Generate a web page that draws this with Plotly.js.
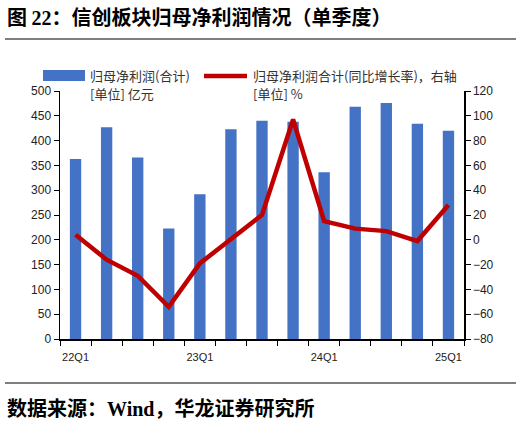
<!DOCTYPE html>
<html><head><meta charset="utf-8">
<script src="https://cdn.plot.ly/plotly-3.0.1.min.js"></script>
<style>html,body{margin:0;padding:0;background:#fff}#chart{width:523px;height:424px}</style>
</head><body><div id="chart"></div><script>
const quarters = ['22Q1','22Q2','22Q3','22Q4','23Q1','23Q2','23Q3','23Q4','24Q1','24Q2','24Q3','24Q4','25Q1'];
const netProfit = [363,427,366,223,292,423,440,438,336,468,476,434,420];
const yoyGrowth = [4,-16,-29,-54,-19,1,20,97,15,9,7,-1,28];
const tickLabels = ['22Q1','','','','23Q1','','','','24Q1','','','','25Q1'];
const barName = '归母净利润(合计)';
const lineName = '归母净利润合计(同比增长率)，右轴';
const barUnit = '[单位] 亿元';
const lineUnit = '[单位] %';
const serif = "'Liberation Serif', 'Times New Roman', serif";
const titleText = '图 <span style="font-family:' + serif + '">22</span>：信创板块归母净利润情况（单季度）';
const sourceText = '数据来源：<span style="font-family:' + serif + '">Wind</span>，华龙证券研究所';

const cjk = '"Noto Sans CJK SC", sans-serif';
const num = '"Liberation Sans", Arial, sans-serif';
const W = 523, H = 424;
const M = {l:60, r:59, t:91, b:85};
const PW = W - M.l - M.r, PH = H - M.t - M.b;
// pixel -> paper (plot-area) coordinates
const px = x => (x - M.l) / PW;
const py = y => (H - M.b - y) / PH;

const traces = [
  {type:'bar', x:quarters, y:netProfit, name:barName, marker:{color:'#4472C4'}, yaxis:'y', showlegend:false},
  {type:'scatter', mode:'lines', x:quarters, y:yoyGrowth, name:lineName, line:{color:'#C00000', width:4.5}, yaxis:'y2', showlegend:false}
];

const layout = {
  width: W, height: H,
  margin: M,
  paper_bgcolor:'#fff', plot_bgcolor:'#fff',
  bargap: 0.635,
  title: {text: titleText, x: 7/W, xanchor:'left', y: 1 - 18/H, yanchor:'middle', font:{family:cjk, size:20, color:'#000', weight:'bold'}},
  xaxis: {type:'category', tickmode:'array', tickvals:quarters, ticktext:tickLabels, tickson:'boundaries', tickangle:0,
          ticks:'outside', ticklen:5, tickcolor:'#000', showline:true, linecolor:'#000', linewidth:1.5, ticklabelstandoff:7,
          showgrid:false, zeroline:false, tickfont:{family:num, size:11, color:'#222'}},
  yaxis: {range:[0,500], dtick:50, ticks:'outside', ticklen:5, tickcolor:'#000', showline:true, linecolor:'#000', linewidth:1.5,
          showgrid:false, zeroline:false, tickfont:{family:num, size:12, color:'#222'}},
  yaxis2: {range:[-80,120], dtick:20, overlaying:'y', side:'right', ticks:'outside', ticklen:5, tickcolor:'#000',
           showline:true, linecolor:'#000', linewidth:1.5, showgrid:false, zeroline:false,
           tickfont:{family:num, size:12, color:'#222'}},
  shapes: [
    {type:'line', xref:'paper', yref:'paper', x0:px(5), x1:px(516), y0:py(39), y1:py(39), line:{color:'#000', width:1.2}},
    {type:'line', xref:'paper', yref:'paper', x0:px(5), x1:px(516), y0:py(383), y1:py(383), line:{color:'#000', width:1.2}},
    {type:'rect', xref:'paper', yref:'paper', x0:px(43), x1:px(85), y0:py(70), y1:py(81), fillcolor:'#4472C4', line:{width:0}},
    {type:'line', xref:'paper', yref:'paper', x0:px(204), x1:px(247), y0:py(76), y1:py(76), line:{color:'#C00000', width:4.5}}
  ],
  annotations: [
    {text:barName, xref:'paper', yref:'paper', x:px(88), y:py(76), xanchor:'left', yanchor:'middle', showarrow:false, font:{family:cjk, size:13, color:'#333'}},
    {text:barUnit, xref:'paper', yref:'paper', x:px(88), y:py(93), xanchor:'left', yanchor:'middle', showarrow:false, font:{family:cjk, size:13, color:'#333'}},
    {text:lineName, xref:'paper', yref:'paper', x:px(251), y:py(76), xanchor:'left', yanchor:'middle', showarrow:false, font:{family:cjk, size:13, color:'#333'}},
    {text:lineUnit, xref:'paper', yref:'paper', x:px(251), y:py(93), xanchor:'left', yanchor:'middle', showarrow:false, font:{family:cjk, size:13, color:'#333'}},
    {text:sourceText, xref:'paper', yref:'paper', x:px(5), y:py(407), xanchor:'left', yanchor:'middle', showarrow:false, font:{family:cjk, size:20, color:'#000', weight:'bold'}}
  ]
};

Plotly.newPlot('chart', traces, layout, {staticPlot:true, displayModeBar:false});
</script></body></html>
